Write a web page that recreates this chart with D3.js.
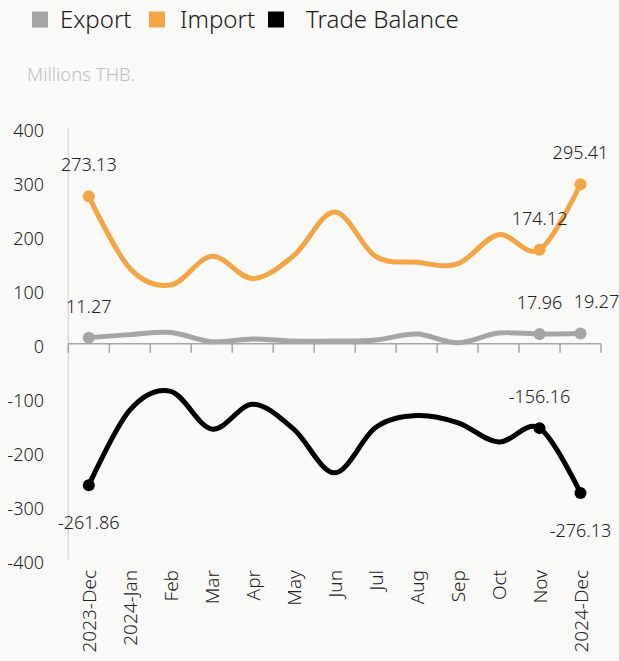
<!DOCTYPE html>
<html>
<head>
<meta charset="utf-8">
<script src="https://cdn.jsdelivr.net/npm/d3@7"></script>
<style>
  html, body { margin: 0; padding: 0; background: #F9F9F7; }
  svg { display: block; font-family: "Noto Sans", "DejaVu Sans", sans-serif; font-weight: 300; }
</style>
</head>
<body>
<svg id="chart" width="619" height="661"></svg>
<script>
// ---- data ----
const categories = ["2023-Dec","2024-Jan","Feb","Mar","Apr","May","Jun","Jul","Aug","Sep","Oct","Nov","2024-Dec"];
const exportValues  = [11.27, 17, 21, 4, 9, 5, 5, 7, 18, 2, 20, 17.96, 19.27];
const importValues  = [273.13, 140, 109, 162, 121, 163, 244, 162, 151, 148, 202, 174.12, 295.41];
const balanceValues = [-261.86, -123, -88, -158, -112, -158, -239, -155, -133, -146, -182, -156.16, -276.13];
const yTicks = [400, 300, 200, 100, 0, -100, -200, -300, -400];
const seriesNames = ["Export", "Import", "Trade Balance"];
const unitLabel = "Millions THB.";
// indices of points that carry a marker and data label
const labelledIdx = [0, 11, 12];

// ---- layout ----
const svg = d3.select("#chart");
const x = d3.scaleBand().domain(categories).range([68.3, 601]);
const y = d3.scaleLinear().domain([-400, 400]).range([559.8, 127.8]);
const cx = c => x(c) + x.bandwidth() / 2;
const fmt2 = v => v.toFixed(2);

const series = [
  { name: seriesNames[0], values: exportValues,  color: "#A5A5A5", labelPos: ["above","above","above"], labelDx: [0, 0, 16] },
  { name: seriesNames[1], values: importValues,  color: "#F4A646", labelPos: ["above","above","above"], labelDx: [0, 0, 0] },
  { name: seriesNames[2], values: balanceValues, color: "#000000", labelPos: ["below","above","below"], labelDx: [0, 0, 0] }
];

// legend
const legendX = [[32, 60], [149, 180], [268, 306]];
const lg = svg.append("g");
series.forEach((s, i) => {
  lg.append("rect").attr("x", legendX[i][0]).attr("y", 11.5).attr("width", 16).attr("height", 16).attr("fill", s.color);
  lg.append("text").attr("x", legendX[i][1]).attr("y", 28).attr("font-size", 24).attr("fill", "#1a1a1a").text(s.name);
});

// unit label
svg.append("text").attr("x", 27).attr("y", 81).attr("font-size", 18.5).attr("fill", "#BFBFBF").text(unitLabel);

// y axis line
svg.append("line").attr("x1", 68.3).attr("x2", 68.3).attr("y1", y(400)).attr("y2", y(-400))
  .attr("stroke", "#D9D9D9").attr("stroke-width", 1.5);

// y tick labels
const yAxis = d3.axisLeft(y).tickValues(yTicks).tickSize(0).tickPadding(0).tickFormat(d => String(d));
const yg = svg.append("g").attr("transform", "translate(44,3)").call(yAxis);
yg.select(".domain").remove();
yg.selectAll("text").attr("font-size", 18).attr("fill", "#222").attr("font-family", "Noto Sans, sans-serif").attr("font-weight", 300);

// x axis at zero with ticks at band boundaries
const xAxisG = svg.append("g").attr("transform", `translate(0,${y(0)})`);
xAxisG.append("line").attr("x1", x.range()[0]).attr("x2", x.range()[1]).attr("stroke", "#A6A6A6").attr("stroke-width", 1.5);
const bounds = categories.map(c => x(c)).concat([x.range()[1]]);
xAxisG.selectAll(".tk").data(bounds).join("line").attr("class", "tk")
  .attr("x1", d => d).attr("x2", d => d).attr("y1", 0).attr("y2", 9)
  .attr("stroke", "#A6A6A6").attr("stroke-width", 1.5);

// x labels (rotated)
svg.append("g").selectAll("text").data(categories).join("text")
  .attr("transform", d => `translate(${cx(d) + 1},570) rotate(-90)`)
  .attr("text-anchor", "end").attr("dy", "0.35em")
  .attr("font-size", 19).attr("fill", "#222").text(d => d);

// lines
const line = d3.line().x((d, i) => cx(categories[i])).y(d => y(d)).curve(d3.curveCardinal.tension(0));
series.forEach(s => {
  svg.append("path").attr("d", line(s.values)).attr("fill", "none")
    .attr("stroke", s.color).attr("stroke-width", 5).attr("stroke-linecap", "round").attr("stroke-linejoin", "round");
});

// markers + labels
series.forEach(s => {
  labelledIdx.forEach((idx, k) => {
    const px = cx(categories[idx]), py = y(s.values[idx]);
    svg.append("circle").attr("cx", px).attr("cy", py).attr("r", 6).attr("fill", s.color);
    const above = s.labelPos[k] === "above";
    svg.append("text").attr("x", px + s.labelDx[k]).attr("y", above ? py - 25 : py + 44)
      .attr("text-anchor", "middle").attr("font-size", 18).attr("fill", "#222")
      .text(fmt2(s.values[idx]));
  });
});
</script>
</body>
</html>
